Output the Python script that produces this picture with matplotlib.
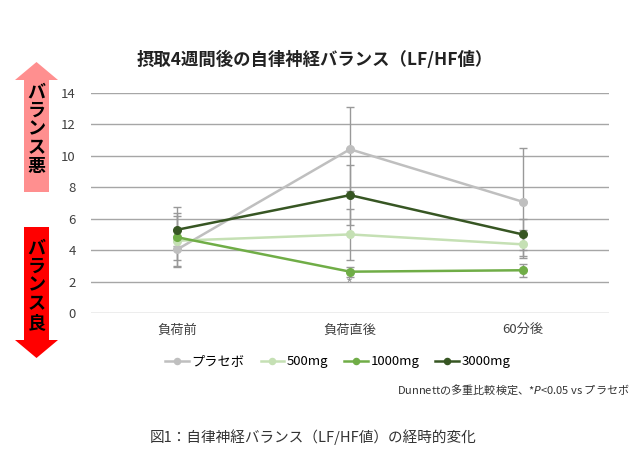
import matplotlib.pyplot as plt
import numpy as np
from matplotlib.patches import Polygon

plt.rcParams['font.family'] = ['Noto Sans CJK JP', 'DejaVu Sans']

# data
timepoints = ["負荷前", "負荷直後", "60分後"]
series_names = ["プラセボ", "500mg", "1000mg", "3000mg"]
placebo = [4.05, 10.42, 7.08]
mg500 = [4.6, 5.0, 4.37]
mg1000 = [4.82, 2.63, 2.72]
mg3000 = [5.3, 7.5, 5.0]
placebo_err = [0.67, 2.66, 3.45]
mg500_err = [1.6, 1.6, 0.9]
mg1000_err = [1.9, 0.32, 0.4]
mg3000_err = [1.05, 1.9, 1.0]
colors = ["#bfbfbf", "#c5e0b4", "#70ad47", "#375623"]
yticks = [0, 2, 4, 6, 8, 10, 12, 14]

W, H = 644, 474
fig = plt.figure(figsize=(W / 100, H / 100), dpi=100)
ax = fig.add_axes([91 / W, 1 - 313 / H, (609 - 91) / W, (313 - 93) / H])

x = np.arange(len(timepoints))
values = [placebo, mg500, mg1000, mg3000]
errs = [placebo_err, mg500_err, mg1000_err, mg3000_err]

for name, v, e, c in zip(series_names, values, errs, colors):
    ax.errorbar(x, v, yerr=e, fmt="none", ecolor="#999999", elinewidth=1,
                capsize=3, capthick=1, zorder=2)
for name, v, c in zip(series_names, values, colors):
    ax.plot(x, v, color=c, lw=1.8, marker="o", markersize=5.5, label=name, zorder=3)

# significance mark
ax.text(1, 1.75, "*", ha="center", va="center", fontsize=11, color="#999999")

ax.set_xlim(-0.5, 2.5)
ax.set_ylim(0, 14)
ax.set_yticks(yticks)
ax.set_xticks(x)
ax.set_xticklabels(timepoints)
ax.yaxis.grid(True, color="#a6a6a6", lw=1)
ax.set_axisbelow(True)
for s in ax.spines.values():
    s.set_visible(False)
ax.tick_params(axis="both", length=0, labelsize=9.5, labelcolor="#404040")
ax.tick_params(axis="y", pad=11)
ax.tick_params(axis="x", pad=8)

fig.text(315 / W, 1 - 60 / H, "摂取4週間後の自律神経バランス（LF/HF値）",
         ha="center", va="center", fontsize=12.5, fontweight="bold", color="#222222")

fig.legend(loc="center", bbox_to_anchor=(338 / W, 1 - 362 / H), ncol=4,
           frameon=False, fontsize=9.5, handlelength=1.8, columnspacing=1.2,
           handletextpad=0.2, markerscale=0.8)

fig.text(630 / W, 1 - 390 / H, r"Dunnettの多重比較検定、*$\it{P}$<0.05 vs プラセボ",
         ha="right", va="center", fontsize=8, color="#333333")

fig.text(150 / W, 1 - 437 / H, "図1：自律神経バランス（LF/HF値）の経時的変化",
         ha="left", va="center", fontsize=10.5, color="#333333")


def px(pts):
    return [(a / W, 1 - b / H) for a, b in pts]


up = px([(36.5, 62), (58, 80), (49, 80), (49, 192), (24, 192), (24, 80), (15, 80)])
down = px([(24, 227), (49, 227), (49, 340), (58, 340), (36.5, 358), (15, 340), (24, 340)])
fig.add_artist(Polygon(up, closed=True, transform=fig.transFigure,
                       facecolor="#ff8f8f", edgecolor="none"))
fig.add_artist(Polygon(down, closed=True, transform=fig.transFigure,
                       facecolor="#ff0000", edgecolor="none"))
fig.text(36.5 / W, 1 - 129 / H, "\n".join("バランス悪"), ha="center", va="center",
         fontsize=13, fontweight="bold", linespacing=0.98, color="black")
fig.text(36.5 / W, 1 - 285 / H, "\n".join("バランス良"), ha="center", va="center",
         fontsize=13, fontweight="bold", linespacing=0.98, color="black")

fig.savefig("out.png", dpi=100)
